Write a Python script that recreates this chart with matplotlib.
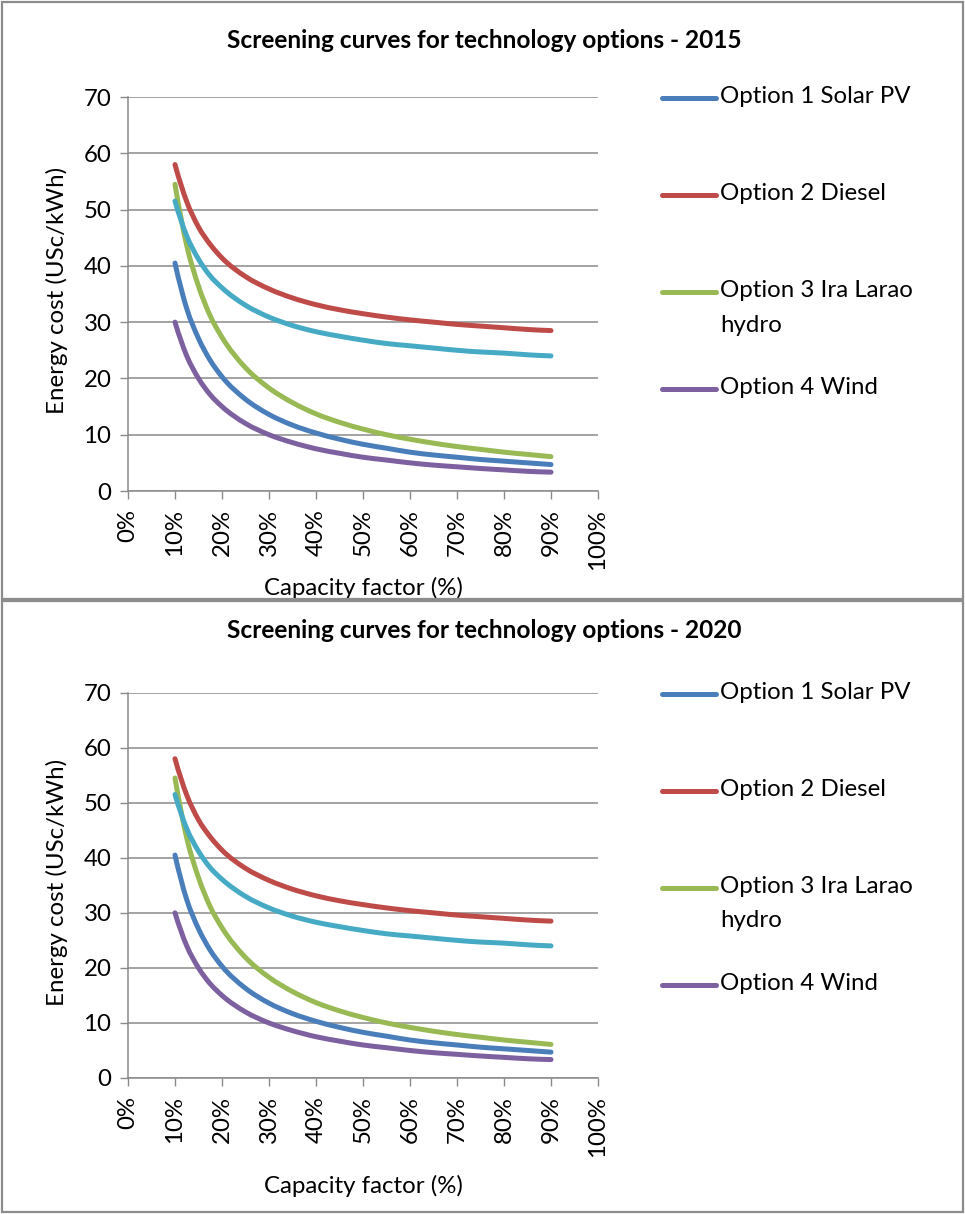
import matplotlib
matplotlib.use('Agg')
import matplotlib.pyplot as plt
from matplotlib.path import Path
from matplotlib.patches import PathPatch, Rectangle
from matplotlib.lines import Line2D

plt.rcParams['font.family'] = ['Lato', 'DejaVu Sans']

# ---------------- data ----------------
capacity_factor = [0.100, 0.125, 0.150, 0.175, 0.20, 0.25, 0.30, 0.35, 0.40, 0.45, 0.50,
                   0.55, 0.60, 0.65, 0.70, 0.75, 0.80, 0.85, 0.90]

solar_pv_2015 = [40.5, 32.4, 27.1, 23.2, 20.3, 16.3, 13.6, 11.7, 10.3, 9.2, 8.3,
                 7.6, 6.9, 6.4, 6.0, 5.6, 5.3, 5.0, 4.7]
diesel_2015 = [58.0, 51.4, 46.9, 43.8, 41.4, 38.1, 35.9, 34.3, 33.1, 32.2, 31.5,
               30.9, 30.4, 30.0, 29.6, 29.3, 29.0, 28.7, 28.5]
hydro_2015 = [54.5, 43.6, 36.4, 31.1, 27.3, 21.9, 18.3, 15.7, 13.7, 12.2, 11.0,
              10.0, 9.2, 8.5, 7.9, 7.4, 6.9, 6.5, 6.1]
wind_2015 = [30.0, 24.0, 20.0, 17.1, 15.0, 12.0, 10.0, 8.6, 7.5, 6.7, 6.0,
             5.5, 5.0, 4.6, 4.3, 4.0, 3.75, 3.5, 3.35]
unlabelled_2015 = [51.5, 45.3, 41.2, 38.2, 36.1, 33.0, 30.9, 29.4, 28.3, 27.5, 26.8,
                   26.2, 25.8, 25.4, 25.0, 24.7, 24.5, 24.2, 24.0]

solar_pv_2020 = [40.5, 32.4, 27.1, 23.2, 20.3, 16.3, 13.6, 11.7, 10.3, 9.2, 8.3,
                 7.6, 6.9, 6.4, 6.0, 5.6, 5.3, 5.0, 4.7]
diesel_2020 = [58.0, 51.4, 46.9, 43.8, 41.4, 38.1, 35.9, 34.3, 33.1, 32.2, 31.5,
               30.9, 30.4, 30.0, 29.6, 29.3, 29.0, 28.7, 28.5]
hydro_2020 = [54.5, 43.6, 36.4, 31.1, 27.3, 21.9, 18.3, 15.7, 13.7, 12.2, 11.0,
              10.0, 9.2, 8.5, 7.9, 7.4, 6.9, 6.5, 6.1]
wind_2020 = [30.0, 24.0, 20.0, 17.1, 15.0, 12.0, 10.0, 8.6, 7.5, 6.7, 6.0,
             5.5, 5.0, 4.6, 4.3, 4.0, 3.75, 3.5, 3.35]
unlabelled_2020 = [51.5, 45.3, 41.2, 38.2, 36.1, 33.0, 30.9, 29.4, 28.3, 27.5, 26.8,
                   26.2, 25.8, 25.4, 25.0, 24.7, 24.5, 24.2, 24.0]

legend_labels = ['Option 1 Solar PV', 'Option 2 Diesel',
                 'Option 3 Ira Larao\nhydro', 'Option 4 Wind']
x_tick_values = [0.0, 0.1, 0.2, 0.3, 0.4, 0.5, 0.6, 0.7, 0.8, 0.9, 1.0]
x_tick_labels = ['0%', '10%', '20%', '30%', '40%', '50%', '60%', '70%', '80%', '90%', '100%']
y_tick_values = [0, 10, 20, 30, 40, 50, 60, 70]
titles = ['Screening curves for technology options - 2015',
          'Screening curves for technology options - 2020']

# ---------------- style ----------------
W, H = 965, 1214
C_BLUE, C_RED, C_GREEN, C_PURPLE, C_CYAN = '#4A7EBB', '#BE4B48', '#98B954', '#7D60A0', '#46AAC5'
GRID = '#8A8A8A'
LW = 3.6
FS = 17.3
FS_TITLE = 17.6


def fx(px):
    return px / W


def fy(py):
    return 1 - py / H


def smooth_path(xs, ys):
    """Smoothed line (Excel-like): cubic Bezier segments through the data points
    (Catmull-Rom tangents, non-uniform spacing aware)."""
    n = len(xs)
    verts = [(xs[0], ys[0])]
    codes = [Path.MOVETO]

    def slope(i):
        if i == 0:
            return (ys[1] - ys[0]) / (xs[1] - xs[0]) * 1.5 - (ys[2] - ys[1]) / (xs[2] - xs[1]) * 0.5
        if i == n - 1:
            return (ys[-1] - ys[-2]) / (xs[-1] - xs[-2]) * 1.5 - (ys[-2] - ys[-3]) / (xs[-2] - xs[-3]) * 0.5
        h0 = xs[i] - xs[i - 1]
        h1 = xs[i + 1] - xs[i]
        d0 = (ys[i] - ys[i - 1]) / h0
        d1 = (ys[i + 1] - ys[i]) / h1
        return (d0 * h1 + d1 * h0) / (h0 + h1)

    for i in range(n - 1):
        h = xs[i + 1] - xs[i]
        m0, m1 = slope(i), slope(i + 1)
        c1 = (xs[i] + h / 3, ys[i] + m0 * h / 3)
        c2 = (xs[i + 1] - h / 3, ys[i + 1] - m1 * h / 3)
        verts += [c1, c2, (xs[i + 1], ys[i + 1])]
        codes += [Path.CURVE4] * 3
    return Path(verts, codes)


fig = plt.figure(figsize=(W / 100, H / 100), dpi=100)
fig.patch.set_facecolor('white')

panels = [
    dict(top=97, bottom=491, title_y=41, xlabel_top=577, box=(2, 2, 963, 599),
         series=[(solar_pv_2015, C_BLUE), (diesel_2015, C_RED), (hydro_2015, C_GREEN),
                 (wind_2015, C_PURPLE), (unlabelled_2015, C_CYAN)], title=titles[0]),
    dict(top=692.7, bottom=1078, title_y=631, xlabel_top=1175, box=(2, 601, 963, 1212),
         series=[(solar_pv_2020, C_BLUE), (diesel_2020, C_RED), (hydro_2020, C_GREEN),
                 (wind_2020, C_PURPLE), (unlabelled_2020, C_CYAN)], title=titles[1]),
]

for p in panels:
    x0, y0, x1, y1 = p['box']
    fig.add_artist(Rectangle((fx(x0), fy(y1)), (x1 - x0) / W, (y1 - y0) / H,
                             transform=fig.transFigure, fill=False,
                             edgecolor='#8C8C8C', lw=1.6))

    h_ax = p['bottom'] - p['top']
    ax = fig.add_axes([fx(128), fy(p['bottom']), (598 - 128) / W, h_ax / H])
    ax.set_xlim(0, 1)
    ax.set_ylim(0, 70)
    ax.set_xticks(x_tick_values)
    ax.set_xticklabels(x_tick_labels, rotation=90)
    ax.set_yticks(y_tick_values)
    ax.tick_params(axis='both', direction='out', length=6, width=1, color=GRID,
                   labelsize=FS, labelcolor='black')
    ax.tick_params(axis='x', pad=7)
    ax.tick_params(axis='y', pad=6)
    for s in ['top', 'right']:
        ax.spines[s].set_visible(False)
    for s in ['left', 'bottom']:
        ax.spines[s].set_color(GRID)
        ax.spines[s].set_linewidth(1.1)
    ax.yaxis.grid(True, color=GRID, lw=1.1)
    ax.set_axisbelow(True)

    for vals, col in p['series']:
        ax.add_patch(PathPatch(smooth_path(capacity_factor, vals), fill=False,
                               edgecolor=col, lw=LW, capstyle='round', joinstyle='round'))

    ax.set_ylabel('Energy cost (USc/kWh)', fontsize=FS)
    ax.yaxis.set_label_coords((68 - 128) / 470, 0.508)
    ax.set_xlabel('Capacity factor (%)', fontsize=FS)
    ax.xaxis.set_label_coords(0.5, (p['bottom'] - p['xlabel_top']) / h_ax)

    fig.text(fx(484), fy(p['title_y']), p['title'], ha='center', va='center',
             fontsize=FS_TITLE, fontweight='bold')

    # legend
    offsets = [1, 98, 195, 292]
    legend_colors = [C_BLUE, C_RED, C_GREEN, C_PURPLE]
    for off, lab, col in zip(offsets, legend_labels, legend_colors):
        yy = p['top'] + off
        fig.add_artist(Line2D([fx(662), fx(716)], [fy(yy), fy(yy)], transform=fig.transFigure,
                              color=col, lw=LW, solid_capstyle='round'))
        fig.text(fx(720), fy(yy - 12), lab, ha='left', va='top', fontsize=FS,
                 linespacing=1.8)

fig.savefig('out.png', dpi=100)
